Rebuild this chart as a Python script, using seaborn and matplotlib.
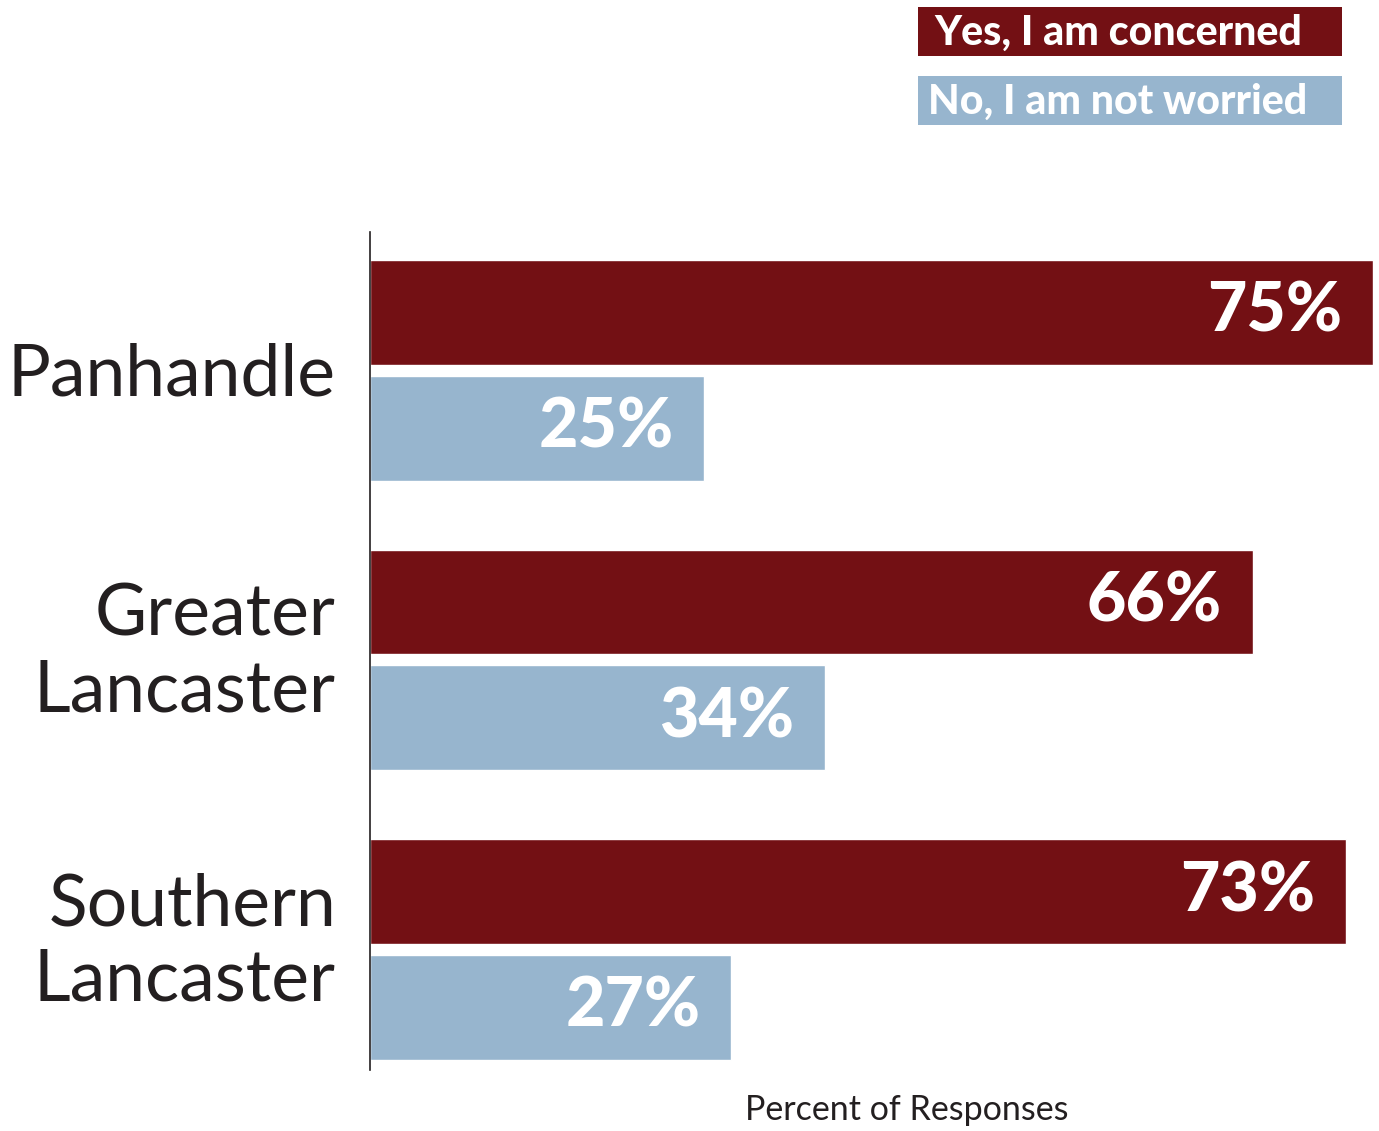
import matplotlib
matplotlib.use("Agg")
import matplotlib.pyplot as plt
import matplotlib.transforms as mtransforms
import seaborn as sns
import pandas as pd
from matplotlib.patches import Rectangle

regions = ["Panhandle", "Greater\nLancaster", "Southern\nLancaster"]
yes_concerned = [75, 66, 73]
not_worried = [25, 34, 27]
series_names = ["Yes, I am concerned", "No, I am not worried"]
colors = ["#731014", "#97b5ce"]
xlabel = "Percent of Responses"

df = pd.DataFrame({
    "region": regions * 2,
    "value": yes_concerned + not_worried,
    "series": [series_names[0]] * 3 + [series_names[1]] * 3,
})

sns.set_theme(style="white")
plt.rcParams["font.family"] = ["Lato", "DejaVu Sans"]

W, H = 1379, 1131
fig = plt.figure(figsize=(W / 100, H / 100), dpi=100)
ax = fig.add_axes([370 / W, (H - 1070) / H, (1373 - 370) / W, (1070 - 232) / H])

sns.barplot(data=df, y="region", x="value", hue="series", hue_order=series_names,
            palette=colors, orient="h", width=0.80, gap=0.095, saturation=1,
            legend=False, ax=ax)

ax.set_xlim(0, 75)
ax.set_ylim(2.416, -0.478)
for s in ["top", "right", "bottom"]:
    ax.spines[s].set_visible(False)
ax.spines["left"].set_color("#231f20")
ax.spines["left"].set_linewidth(1.2)
ax.set_xticks([])
ax.set_xlabel("")
ax.set_ylabel("")
ax.tick_params(axis="y", length=0)
ticks = ax.get_yticks()
ax.set_yticklabels([])

base = mtransforms.blended_transform_factory(ax.transAxes, ax.transData)
for yt, name in zip(ticks, regions):
    dy = 7 if "\n" in name else -5
    tr = base + mtransforms.ScaledTranslation(-34 / 100, dy / 100, fig.dpi_scale_trans)
    ax.text(0, yt, name, transform=tr, ha="right", va="center", fontsize=51.5,
            color="#231f20", linespacing=1.2, multialignment="right")

for cont in ax.containers:
    for bar in cont:
        w = bar.get_width()
        ax.text(w - 2.3, bar.get_y() + bar.get_height() / 2, f"{w:.0f}%",
                ha="right", va="center", color="white", fontsize=49,
                fontweight="black")

# legend boxes
for i, (name, c) in enumerate(zip(series_names, colors)):
    y0 = [7, 76][i]
    fig.patches.append(Rectangle((918 / W, (H - y0 - 49) / H), (1342 - 918) / W, 49 / H,
                                 transform=fig.transFigure, facecolor=c, edgecolor="none"))
    fig.text((928 + (6 if i == 0 else 0)) / W, (H - y0 - 26) / H, name, ha="left", va="center",
             color="white", fontsize=29.6, fontweight="black")

fig.text(907 / W, (H - 1110) / H, xlabel, ha="center", va="center",
         fontsize=24.5, color="#231f20")

fig.savefig("out.png", dpi=100)
